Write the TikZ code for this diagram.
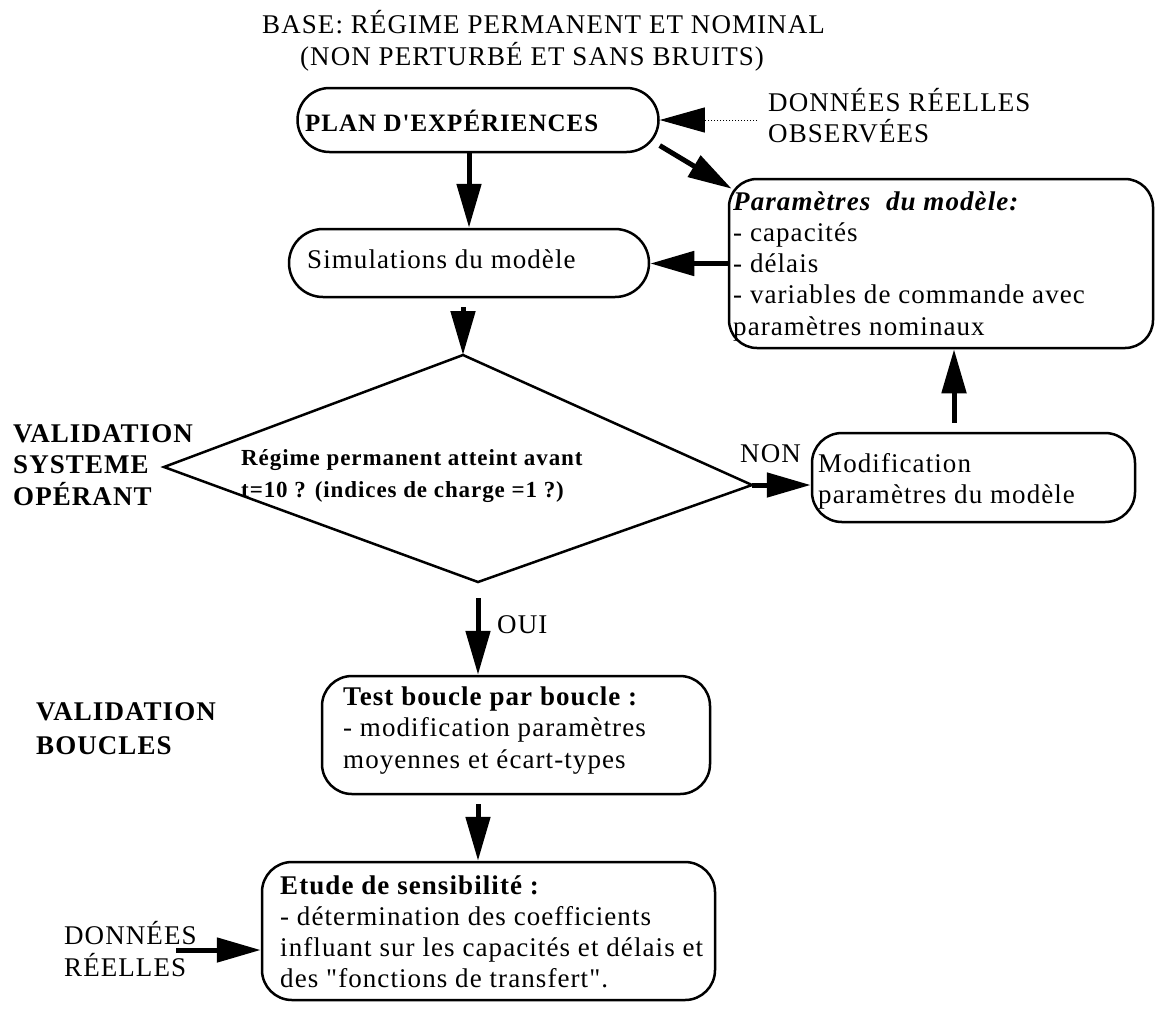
\documentclass[tikz,border=0pt]{standalone}
\usepackage{fontspec}
\newfontfamily\lib{Liberation Serif}[LetterSpace=4.0]
\usetikzlibrary{arrows.meta}
\newcommand\fsreg{\fontsize{27}{31}\selectfont}
\newcommand\fsdia{\fontsize{23}{32}\selectfont}
\begin{document}
\begin{tikzpicture}[x=1pt,y=-1pt,
  every node/.style={font=\lib\fsreg, inner sep=0pt},
  box/.style={draw, line width=2.5pt, anchor=center},
  txt/.style={anchor=base west, align=left},
  arr/.style={line width=5pt, -{Triangle[length=44pt,width=24pt]}},
  diam/.style={line width=2.5pt, line join=miter},
]
\useasboundingbox (0,0) rectangle (1155,1013);

% title
\node[txt] (t1) at (262,33) {BASE: RÉGIME PERMANENT ET NOMINAL};
\node[txt] (t2) at (300,65) {(NON PERTURBÉ ET SANS BRUITS)};

% plan d'experiences
\node[box, rounded corners=32pt, minimum width=361pt, minimum height=64pt] (plan) at (478,120) {};
\node[txt, font=\lib\fontsize{25}{30}\selectfont\bfseries] (plant) at (305,131) {PLAN D'EXPÉRIENCES};

\node[txt] (obs) at (768,142) {DONNÉES RÉELLES\\OBSERVÉES};
\coordinate (obsdot) at (757,120);
\draw[line width=1pt, dotted, -{Triangle[length=45pt,width=25pt]}] (obsdot) -- (plan.east);

% parametres du modele
\node[box, rounded corners=28pt, minimum width=424pt, minimum height=169pt] (param) at (941,263.5) {};
\node[txt, font=\lib\fontsize{27}{31.25}\selectfont] (paramt) at (733,335)
  {\textbf{\textit{Paramètres\ \ du modèle:}}\\- capacités\\- délais\\- variables de commande avec\\paramètres nominaux};
\draw[arr] (plan.-8) -- ([shift={(4,11)}]param.north west);

% simulations
\node[box, rounded corners=34pt, minimum width=360pt, minimum height=68pt] (sim) at (469,263) {};
\node[txt] (simt) at (307,268) {Simulations du modèle};
\draw[arr] (sim.north |- plan.south) -- (sim.north);
\draw[arr] (param.west) -- (param.west -| sim.east);

% decision
\coordinate (dtop) at (463,355);
\coordinate (dright) at (752,485);
\coordinate (dbot) at (478,582);
\coordinate (dleft) at (164,467);
\draw[diam] (dtop) -- (dright) -- (dbot) -- (dleft) -- cycle;
\node[txt, font=\lib\fsdia\bfseries] (q) at (241,497) {Régime permanent atteint avant\\t=10 ? (indices de charge =1 ?)};
\coordinate (simout) at (dtop |- sim.south);
\draw[arr] ([yshift=-9pt]simout) -- (dtop);

\node[txt, font=\lib\fontsize{27}{31.5}\selectfont\bfseries] (vs) at (13,505) {VALIDATION\\SYSTEME\\OPÉRANT};

% modification
\node[box, rounded corners=30pt, minimum width=323pt, minimum height=89pt] (mod) at (973.5,477.5) {};
\node[txt] (modt) at (818,503) {Modification\\paramètres du modèle};
\node[txt] (non) at (740,462) {NON};
\draw[arr] (dright) -- (dright -| mod.west);
\draw[arr] ([xshift=-19.5pt,yshift=9pt]mod.north) -- ([xshift=-19.5pt]mod.north |- param.south);

% test boucle par boucle
\node[box, rounded corners=30pt, minimum width=388pt, minimum height=118pt] (test) at (516,735) {};
\node[txt, font=\lib\fontsize{27}{31.5}\selectfont] (testt) at (343,768)
  {\textbf{Test boucle par boucle :}\\- modification paramètres\\moyennes et écart-types};
\draw[arr] ([yshift=-16pt]dbot) -- (dbot |- test.north);
\node[txt] (oui) at (497,633) {OUI};
\node[txt, font=\lib\fontsize{27}{34}\selectfont\bfseries] (vb) at (36,754) {VALIDATION\\BOUCLES};

% etude de sensibilite
\node[box, rounded corners=30pt, minimum width=453pt, minimum height=138pt] (etude) at (488.5,931) {};
\node[txt] (etudet) at (280,987)
  {\textbf{Etude de sensibilité :}\\- détermination des coefficients\\influant sur les capacités et délais et\\des "fonctions de transfert".};
\coordinate (testout) at (dbot |- test.south);
\draw[arr] ([yshift=-9pt]testout) -- (dbot |- etude.north);

\node[txt, font=\lib\fontsize{27}{32}\selectfont] (dr) at (64,976) {DONNÉES\\RÉELLES};
\coordinate (drs) at (176,950);
\draw[arr] (drs) -- (drs -| etude.west);
\end{tikzpicture}
\end{document}
